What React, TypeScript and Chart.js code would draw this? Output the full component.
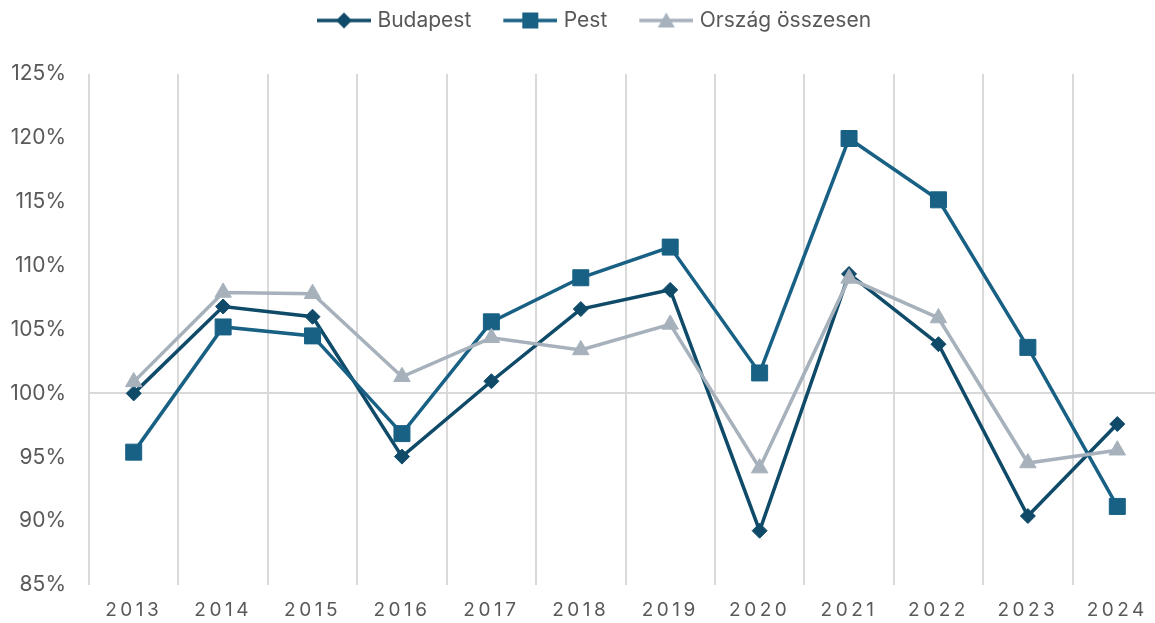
import React, { useEffect, useRef } from 'react';
import { Chart, registerables } from 'chart.js';

Chart.register(...registerables);

const years = ['2013', '2014', '2015', '2016', '2017', '2018', '2019', '2020', '2021', '2022', '2023', '2024'];
const budapest = [100.0, 106.8, 106.0, 95.05, 100.95, 106.6, 108.1, 89.25, 109.35, 103.85, 90.4, 97.6];
const pest = [95.4, 105.2, 104.5, 96.85, 105.6, 109.05, 111.45, 101.6, 119.95, 115.15, 103.6, 91.15];
const orszag = [100.9, 107.9, 107.8, 101.3, 104.35, 103.4, 105.4, 94.15, 109.0, 105.9, 94.55, 95.55];

const seriesNames = ['Budapest', 'Pest', 'Ország összesen'];
const seriesColors = ['#0f4b69', '#186185', '#a6b1bc'];
const seriesStyles = ['rectRot', 'rect', 'triangle'];

const yMin = 85;
const yMax = 125;
const yStep = 5;

const FONT = 'Inter, "Open Sans", sans-serif';
const TEXT = '#595959';
const GRID = '#d9d9d9';

function legendIcon(color: string, style: string): HTMLCanvasElement {
  const c = document.createElement('canvas');
  c.width = 80;
  c.height = 20;
  const g = c.getContext('2d')!;
  g.strokeStyle = color;
  g.fillStyle = color;
  g.lineWidth = 3.5;
  g.beginPath();
  g.moveTo(26, 10);
  g.lineTo(80, 10);
  g.stroke();
  const cx = 53;
  const cy = 10;
  g.beginPath();
  if (style === 'rectRot') {
    g.moveTo(cx - 8, cy);
    g.lineTo(cx, cy - 8);
    g.lineTo(cx + 8, cy);
    g.lineTo(cx, cy + 8);
    g.closePath();
  } else if (style === 'rect') {
    g.rect(cx - 8, cy - 8, 16, 16);
  } else {
    g.moveTo(cx, cy - 8);
    g.lineTo(cx + 8.5, cy + 7);
    g.lineTo(cx - 8.5, cy + 7);
    g.closePath();
  }
  g.fill();
  return c;
}

export default function App() {
  const ref = useRef<HTMLCanvasElement | null>(null);

  useEffect(() => {
    document.body.style.margin = '0';
    const canvas = ref.current!;
    const icons = seriesColors.map((c, i) => legendIcon(c, seriesStyles[i]));

    const layoutTweaks = {
      id: 'layoutTweaks',
      beforeInit(chart: any) {
        const orig = chart.legend.fit;
        chart.legend.fit = function () {
          orig.call(this);
          this.height = 74;
        };
      },
      afterLayout(chart: any) {
        if (chart.legend) {
          chart.legend.left += 4;
        }
      },
      afterUpdate(chart: any) {
        const s = chart.scales.x;
        if (s && !s.__spaced) {
          const orig = s.drawLabels.bind(s);
          s.drawLabels = (area: any) => {
            const ctx = chart.ctx;
            ctx.save();
            (ctx as any).letterSpacing = '3.5px';
            orig(area);
            ctx.restore();
          };
          s.__spaced = true;
        }
      },
    };

    const datasets = [budapest, pest, orszag].map((d, i) => ({
      label: seriesNames[i],
      data: d,
      borderColor: seriesColors[i],
      backgroundColor: seriesColors[i],
      pointBackgroundColor: seriesColors[i],
      pointBorderColor: seriesColors[i],
      pointStyle: seriesStyles[i],
      pointRadius: i === 0 ? 7.5 : i === 1 ? 11.3 : 9.5,
      pointBorderWidth: 1,
      borderWidth: 3.5,
      tension: 0,
      fill: false,
      order: 3 - i,
    }));

    const chart = new Chart(canvas, {
      type: 'line',
      data: { labels: years, datasets },
      plugins: [layoutTweaks],
      options: {
        responsive: false,
        animation: false,
        layout: { padding: { left: 0, right: 28, top: 0, bottom: 0 } },
        plugins: {
          tooltip: { enabled: false },
          legend: {
            position: 'top',
            labels: {
              usePointStyle: true,
              pointStyleWidth: 72,
              boxHeight: 20,
              padding: 10,
              color: TEXT,
              font: { family: FONT, size: 21 },
              sort: (a: any, b: any) => a.datasetIndex - b.datasetIndex,
              generateLabels: (ch: any) => {
                const items = Chart.defaults.plugins.legend.labels.generateLabels(ch);
                items.forEach((it: any) => {
                  it.pointStyle = icons[it.datasetIndex];
                });
                return items;
              },
            },
          },
        },
        scales: {
          x: {
            offset: true,
            grid: { offset: true, color: GRID, lineWidth: 2, drawTicks: false },
            border: { display: false },
            ticks: { color: TEXT, font: { family: FONT, size: 19 }, padding: 14, maxRotation: 0 },
            afterFit: (s: any) => {
              s.height = 38;
            },
          },
          y: {
            min: yMin,
            max: yMax,
            border: { display: false },
            grid: {
              drawTicks: false,
              lineWidth: 2,
              color: (c: any) => (c.tick && c.tick.value === 100 ? GRID : 'rgba(0,0,0,0)'),
            },
            ticks: {
              stepSize: yStep,
              color: TEXT,
              font: { family: FONT, size: 21 },
              padding: 23,
              callback: (v: any) => `${v}%`,
            },
            afterFit: (s: any) => {
              s.width = 89;
            },
          },
        },
      },
    });
    return () => chart.destroy();
  }, []);

  return (
    <div style={{ width: 1155, height: 623, overflow: 'hidden', position: 'relative' }}>
      <canvas ref={ref} width={1190} height={623} style={{ display: 'block', width: 1190, height: 623 }} />
    </div>
  );
}
